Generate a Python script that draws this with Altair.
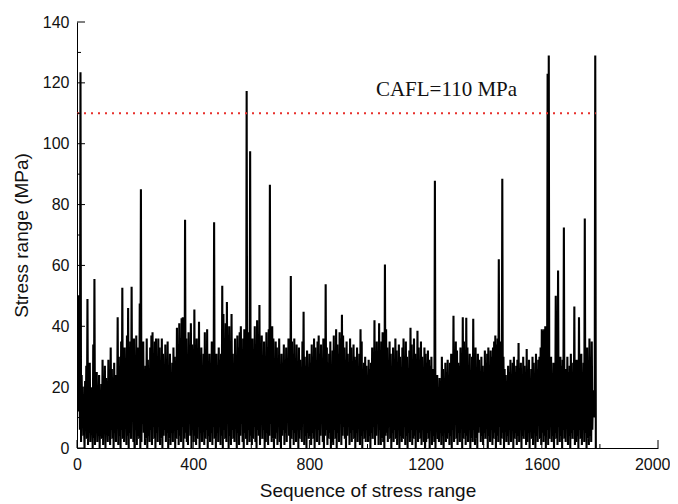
import altair as alt
import pandas as pd

# Peak stress ranges (MPa), one every 4 cycles of the sequence
peaks = [
    40, 50, 42, 123.5, 24, 20, 8, 22, 27, 49,
    21, 28, 18, 20, 34, 55.5, 17, 25, 16, 24,
    14, 21, 29, 19, 27, 23, 16, 29, 22, 33,
    26, 18, 28, 24, 21, 43, 30, 26, 35, 52.7,
    28, 33, 25, 37, 46, 29, 35, 53, 31, 36,
    30, 37, 33, 28, 47.5, 85, 30, 35, 22, 27,
    36, 29, 18, 33, 37, 38, 31, 35, 36, 30,
    36, 33, 28, 36, 31, 25, 34, 29, 35, 27,
    31, 24, 28, 33, 30, 27, 39.5, 34, 41, 36,
    42.6, 43, 38, 75, 36, 30, 38, 27, 41, 34,
    25, 45.5, 28, 36, 30, 41.5, 24, 33, 20, 31,
    38, 27, 39, 25, 31, 22, 35, 29, 74.2, 30,
    31, 27, 33, 29, 31, 53.3, 44, 36, 41, 48,
    33, 40, 28, 44, 31, 25, 36, 30, 37, 33,
    38, 40, 32, 36, 39, 34, 117.3, 38, 30, 97.5,
    33, 36, 27, 40, 31, 42, 35, 47, 29, 37,
    28, 35, 24, 38, 33, 39, 86.5, 30, 40, 36,
    29, 35, 33, 27, 36, 22, 31, 28, 34, 26,
    33, 29, 36, 30, 56.5, 35, 31, 36, 28, 34,
    24, 33, 29, 26, 35, 44.8, 30, 27, 32, 25,
    31, 28, 34, 30, 36, 33, 27, 35, 37, 31,
    34, 29, 36, 32, 53.8, 33, 28, 31, 35, 26,
    32, 37, 29, 39, 34, 31, 38, 36, 43.8, 37,
    33, 29, 35, 31, 27, 36, 33, 28, 34, 30,
    29, 33, 26, 31, 39, 35, 24, 28, 30, 27,
    22, 29, 26, 28, 33, 27, 42, 31, 35, 29,
    41, 30, 35, 38, 37, 60.3, 39, 33, 28, 35,
    31, 26, 33, 29, 36, 32, 27, 34, 30, 25,
    33, 36, 28, 35, 30, 26, 32, 39.5, 34, 29,
    36, 31, 27, 38.5, 33, 29, 35, 30, 26, 33,
    31, 28, 32, 29, 27, 30, 26, 22, 87.8, 20,
    24, 8, 23, 22, 30, 26, 21, 28, 25, 29,
    24, 28, 31, 26, 43.5, 29, 35, 32, 28, 27,
    33, 30, 43, 35, 29, 42.8, 33, 27, 31, 25,
    30, 42.5, 28, 33, 26, 31, 29, 24, 30, 27,
    25, 32, 28, 31, 33, 27, 32, 30, 33, 35,
    37, 34, 36, 62, 33, 35, 88.5, 30, 26, 24,
    22, 27, 25, 29, 23, 28, 30, 25, 27, 29,
    34.5, 26, 28, 24, 30, 27, 23, 32.5, 25, 29,
    22, 26, 30, 28, 24, 31, 26, 29, 30, 33,
    39, 38.5, 39, 40, 30, 123, 129, 27, 30, 22,
    28, 25, 50, 30, 58.3, 24, 30, 27, 29, 72.5,
    22, 26, 30, 25, 27, 31, 23, 28, 46.5, 26,
    29, 24, 43, 27, 31, 25, 28, 75.4, 30, 33,
    26, 36, 24, 35, 19, 19, 129,
]

# Valley stress ranges (MPa) between the peaks
troughs = [
    30, 12, 6, 2, 9, 4, 0, 7, 3, 1,
    5, 2, 8, 0, 3, 1, 6, 2, 4, 0,
    7, 3, 1, 5, 0, 9, 2, 4, 1, 6,
    3, 0, 5, 2, 8, 1, 4, 0, 6, 3,
    2, 7, 1, 4, 0, 5, 3, 9, 2, 0,
    6, 1, 4, 3, 0, 2, 8, 5, 1, 3,
    0, 4, 2, 6, 1, 7, 3, 0, 5, 2,
    9, 1, 3, 0, 4, 6, 2, 5, 0, 3,
    1, 5, 2, 8, 0, 3, 6, 1, 4, 2,
    7, 0, 3, 5, 2, 1, 9, 4, 0, 6,
    2, 4, 1, 3, 7, 0, 5, 2, 8, 1,
    3, 6, 0, 4, 2, 5, 1, 7, 3, 0,
    5, 2, 9, 1, 4, 0, 6, 3, 2, 8,
    0, 4, 1, 6, 3, 2, 7, 0, 5, 1,
    4, 8, 2, 0, 5, 3, 1, 6, 2, 4,
    1, 3, 7, 2, 0, 6, 4, 1, 9, 3,
    6, 0, 2, 5, 1, 4, 8, 2, 3, 0,
    3, 5, 1, 7, 2, 0, 4, 6, 1, 5,
    2, 9, 4, 0, 3, 6, 1, 5, 2, 7,
    0, 3, 6, 2, 8, 1, 4, 0, 5, 3,
    4, 1, 5, 3, 0, 7, 2, 6, 1, 4,
    8, 2, 0, 4, 6, 1, 3, 5, 0, 2,
    1, 6, 3, 0, 5, 2, 9, 1, 4, 7,
    3, 0, 4, 8, 1, 5, 2, 6, 3, 0,
    5, 2, 7, 1, 4, 0, 6, 3, 2, 8,
    2, 4, 0, 5, 3, 7, 1, 4, 9, 1,
    6, 1, 3, 2, 0, 4, 5, 2, 7, 3,
    0, 5, 2, 6, 3, 1, 8, 0, 4, 2,
    3, 7, 1, 4, 0, 5, 2, 6, 1, 3,
    4, 0, 6, 2, 5, 3, 1, 7, 2, 0,
    2, 5, 3, 0, 7, 1, 4, 2, 0, 6,
    3, 2, 5, 1, 4, 0, 6, 2, 3, 5,
    1, 4, 0, 6, 2, 8, 3, 1, 5, 2,
    7, 0, 3, 5, 1, 4, 2, 9, 0, 3,
    2, 6, 1, 3, 0, 5, 7, 2, 4, 1,
    5, 3, 8, 0, 4, 2, 6, 1, 3, 5,
    0, 4, 2, 7, 1, 3, 5, 0, 6, 2,
    4, 1, 6, 2, 8, 0, 3, 5, 1, 4,
    2, 7, 0, 4, 3, 6, 1, 2, 5, 0,
    6, 3, 1, 5, 0, 4, 2, 8, 3, 1,
    5, 2, 4, 0, 6, 1, 3, 7, 2, 4,
    0, 5, 3, 1, 7, 2, 4, 0, 6, 3,
    2, 8, 1, 4, 0, 5, 3, 6, 1, 2,
    4, 0, 6, 3, 1, 7, 2, 5, 0, 3,
    1, 4, 2, 6, 12, 10, 0,
]

x_major = [0, 400, 800, 1200, 1600, 2000]
x_minor = [200, 600, 1000, 1400, 1800]
y_major = [0, 20, 40, 60, 80, 100, 120, 140]
y_minor = [10, 30, 50, 70, 90, 110, 130]

cafl_start = [0]
cafl_end = [1786]
cafl_value = [110]
label_seq = [1272]
label_value = [117.5]
label_text = ["CAFL=110 MPa"]

rows = []
for i, (p, t) in enumerate(zip(peaks, troughs)):
    rows.append({"seq": 4 * i, "stress": p})
    rows.append({"seq": 4 * i + 2, "stress": t})
df = pd.DataFrame(rows)

W, H = 581, 426
xs = alt.Scale(domain=[0, 2000], nice=False, zero=False)
ys = alt.Scale(domain=[0, 140], nice=False)

base_font = "Liberation Sans"

line = alt.Chart(df).mark_line(color="black", strokeWidth=2.1, clip=True).encode(
    x=alt.X("seq:Q", scale=xs,
            axis=alt.Axis(values=x_major, format="d", title="Sequence of stress range",
                          labelFlush=False, titlePadding=9,
                          labelAlign=alt.expr("datum.value == 2000 ? 'right' : 'center'"),
                          labelOffset=alt.expr("datum.value == 2000 ? 12 : 0"))),
    y=alt.Y("stress:Q", scale=ys,
            axis=alt.Axis(values=y_major, format="d", title="Stress range (MPa)",
                          titlePadding=11)),
)

cafl_df = pd.DataFrame({"x": cafl_start, "x2": cafl_end, "y": cafl_value})
cafl = alt.Chart(cafl_df).mark_rule(color="#e8302c", strokeWidth=2,
                                    strokeDash=[2, 5]).encode(
    x=alt.X("x:Q", scale=xs), x2="x2:Q", y=alt.Y("y:Q", scale=ys))

lab_df = pd.DataFrame({"x": label_seq, "y": label_value, "t": label_text})
label = alt.Chart(lab_df).mark_text(font="Liberation Serif", fontSize=21,
                                    color="#111111", align="center",
                                    baseline="middle").encode(
    x=alt.X("x:Q", scale=xs), y=alt.Y("y:Q", scale=ys), text="t:N")

ymaj_df = pd.DataFrame({"v": y_major})
ymin_df = pd.DataFrame({"v": y_minor})
xmaj_df = pd.DataFrame({"v": x_major})
xmin_df = pd.DataFrame({"v": x_minor})

ytick_major = alt.Chart(ymaj_df).mark_rule(color="black", strokeWidth=1).encode(
    y=alt.Y("v:Q", scale=ys), x=alt.value(0), x2=alt.value(8))
ytick_minor = alt.Chart(ymin_df).mark_rule(color="black", strokeWidth=1).encode(
    y=alt.Y("v:Q", scale=ys), x=alt.value(0), x2=alt.value(4))
xtick_major = alt.Chart(xmaj_df).mark_rule(color="black", strokeWidth=1).encode(
    x=alt.X("v:Q", scale=xs), y=alt.value(H), y2=alt.value(H - 8))
xtick_minor = alt.Chart(xmin_df).mark_rule(color="black", strokeWidth=1).encode(
    x=alt.X("v:Q", scale=xs), y=alt.value(H), y2=alt.value(H - 4))

chart = alt.layer(
    line, cafl, label, ytick_major, ytick_minor, xtick_major, xtick_minor
).properties(
    width=W, height=H,
    autosize=alt.AutoSizeParams(type="none"),
    padding={"left": 69, "top": 14, "right": 12, "bottom": 56},
).configure_view(stroke=None).configure_axis(
    grid=False, ticks=False, domainColor="black", domainWidth=1,
    labelFont=base_font, labelFontSize=16, labelColor="#111111",
    labelPadding=8, titleFont=base_font, titleFontSize=19,
    titleFontWeight="normal", titleColor="#111111",
)

chart.save("out.html", embed_options={"renderer": "svg", "actions": False})
